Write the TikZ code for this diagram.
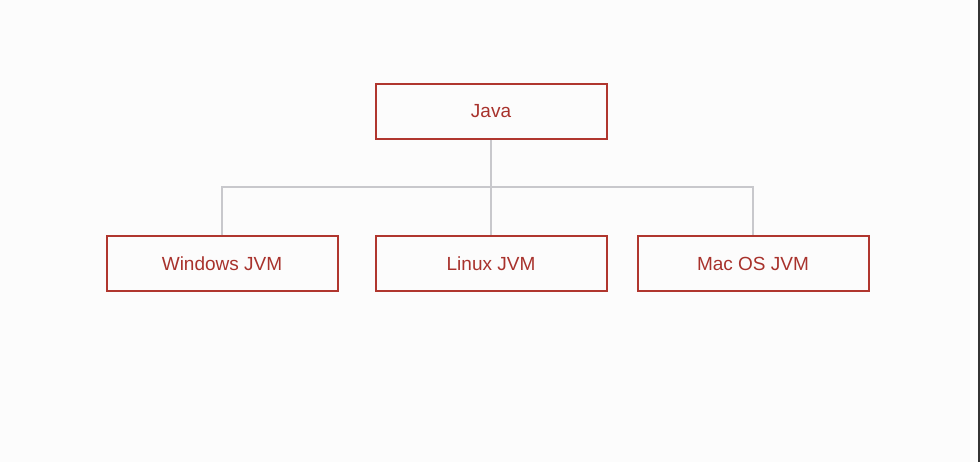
\documentclass[tikz,border=0pt]{standalone}
\usepackage{fontspec}
\setmainfont{Liberation Sans}
\definecolor{boxred}{HTML}{B0362E}
\definecolor{txtred}{HTML}{A8322C}
\definecolor{linegray}{HTML}{C8C8CC}
\definecolor{bg}{HTML}{FCFCFC}
\begin{document}
\begin{tikzpicture}[x=1pt,y=-1pt,
  box/.style={draw=boxred,line width=2pt,minimum width=231pt,minimum height=55pt,inner sep=0pt,text=txtred,font=\fontsize{19}{22}\selectfont},
  conn/.style={draw=linegray,line width=2pt}]
\fill[bg] (0,0) rectangle (980,462);
\useasboundingbox (0,0) rectangle (980,462);
\fill[black!80] (978,0) rectangle (980,462);
\node[box] (java) at (491,111.5) {Java};
\node[box] (win) at (222,264) {Windows JVM};
\node[box] (lin) at (491,264) {Linux JVM};
\node[box] (mac) at (753,264) {Mac OS JVM};
\coordinate (hub) at (491,187);
\draw[conn] (java.south) -- (lin.north);
\draw[conn] (win.north) |- (hub) -| (mac.north);
\end{tikzpicture}
\end{document}
